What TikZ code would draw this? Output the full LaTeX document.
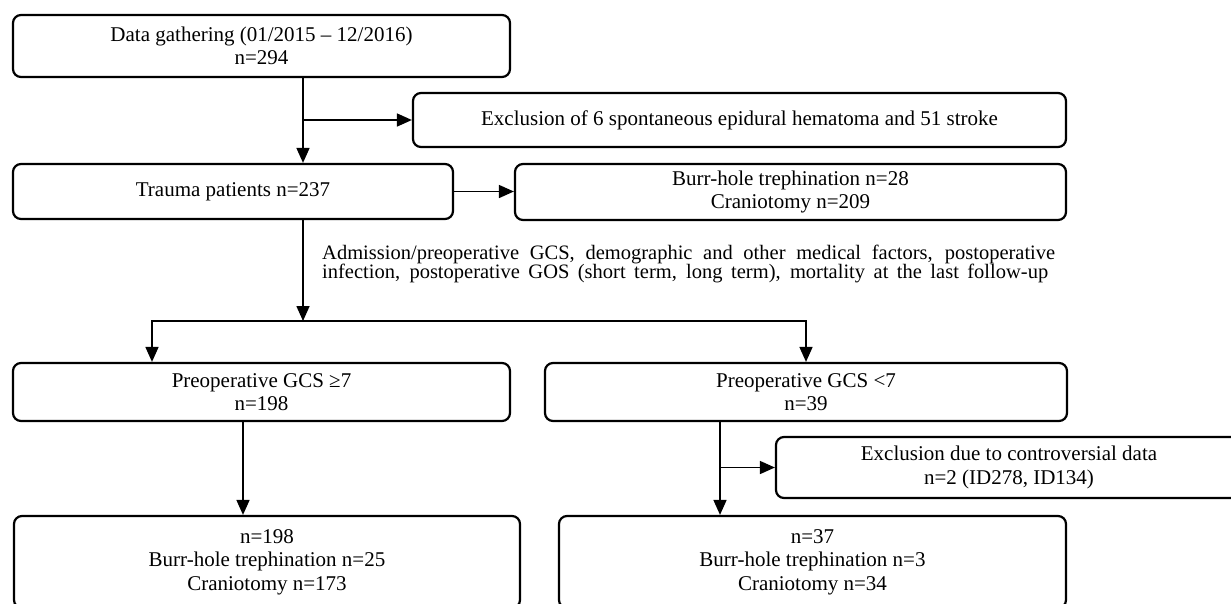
\documentclass[tikz,border=0pt]{standalone}
\usepackage{fontspec}
\setmainfont{Liberation Serif}
\usetikzlibrary{arrows.meta}
\begin{document}
\begin{tikzpicture}[x=1pt,y=-1pt,
  box/.style={draw, line width=2.2pt, rounded corners=8pt, inner sep=0pt, align=center,
    font=\fontsize{21}{23.5}\selectfont},
  conn/.style={line width=1.6pt},
  arr/.style={conn, -{Triangle[length=15pt,width=13pt]}},
  note/.style={inner sep=0pt, anchor=base west, font=\fontsize{20.5}{16.5}\selectfont}]
\fill[white] (0,0) rectangle (1231,603);
\useasboundingbox (0,0) rectangle (1231,603);

\node[box, minimum width=497pt, minimum height=62pt] (b1) at (261.5,46) {Data gathering (01/2015 -- 12/2016)\\n=294};
\node[box, minimum width=653pt, minimum height=54pt] (ex1) at (739.5,120) {Exclusion of 6 spontaneous epidural hematoma and 51 stroke};
\node[box, minimum width=440pt, minimum height=55pt] (tr) at (233,191.5) {Trauma patients n=237};
\node[box, minimum width=551pt, minimum height=56pt] (bc) at (790.5,192) {Burr-hole trephination n=28\\Craniotomy n=209};
\node[box, minimum width=497pt, minimum height=58pt] (p1) at (261.5,392) {Preoperative GCS ≥7\\n=198};
\node[box, minimum width=522pt, minimum height=58pt] (p2) at (806,392) {Preoperative GCS <7\\n=39};
\node[box, minimum width=466pt, minimum height=61pt] (ex2) at (1009,467.5) {Exclusion due to controversial data\\n=2 (ID278, ID134)};
\node[box, minimum width=506pt, minimum height=92pt] (f1) at (267,562) {n=198\\Burr-hole trephination n=25\\Craniotomy n=173};
\node[box, minimum width=507pt, minimum height=92pt] (f2) at (812.5,562) {n=37\\Burr-hole trephination n=3\\Craniotomy n=34};

\node[note] (ann) at (322,259) {\begin{tabular}[t]{@{}l@{}}\makebox[733pt][s]{Admission/preoperative GCS, demographic and other medical factors, postoperative}\\
\makebox[726pt][s]{infection, postoperative GOS (short term, long term), mortality at the last follow-up}\end{tabular}};

\coordinate (c1) at (303,120);
\coordinate (c2) at (303,321);
\coordinate (c3) at (152,321);
\coordinate (c4) at (806,321);
\coordinate (d1) at (243,470);
\coordinate (d2) at (720,467.5);

\draw[arr] (b1.south -| c1) -- (tr.north -| c1);
\draw[arr] (c1) -- (ex1.west);
\draw[arr] (tr.east) -- (bc.west |- tr.east);
\draw[arr] (tr.south -| c2) -- (c2);
\draw[arr] (c2) -- (c3) -- (p1.north -| c3);
\draw[arr] (c2) -- (c4) -- (p2.north);
\draw[arr] (p1.south -| d1) -- (f1.north -| d1);
\draw[arr] (p2.south -| d2) -- (f2.north -| d2);
\draw[arr] (d2) -- (ex2.west);
\end{tikzpicture}
\end{document}
